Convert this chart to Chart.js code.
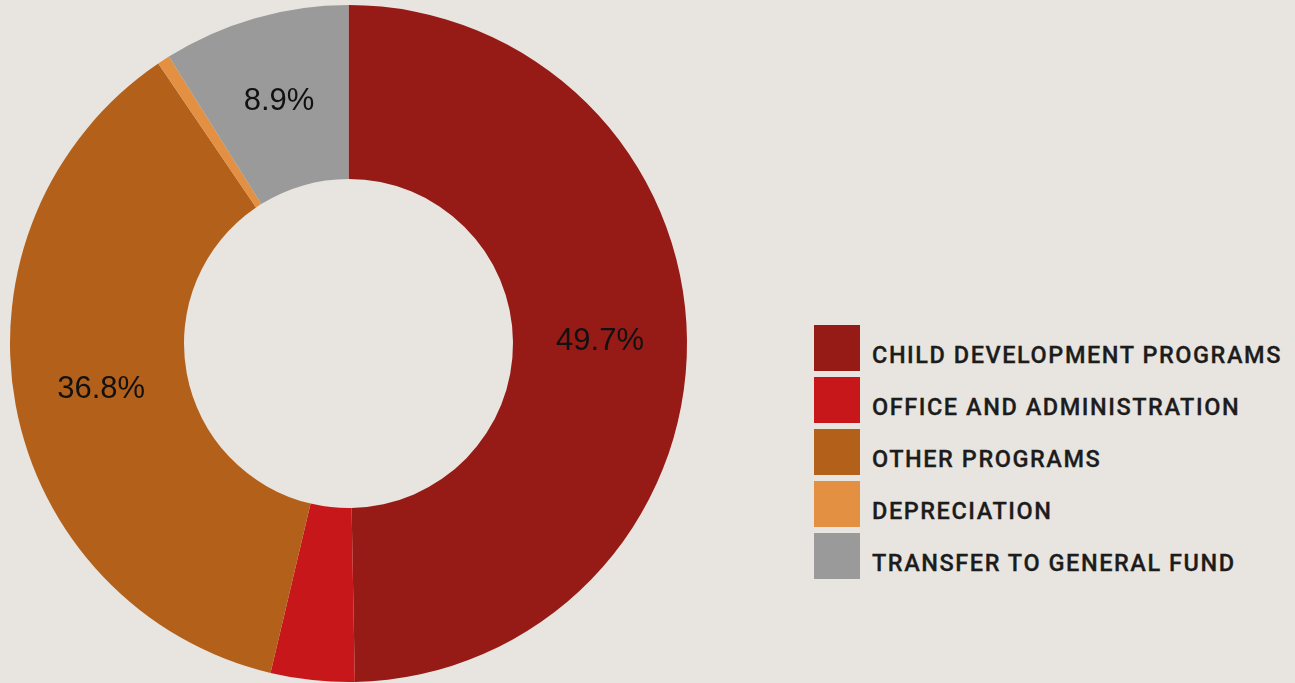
<!DOCTYPE html>
<html>
<head>
<meta charset="utf-8">
<script src="https://cdn.jsdelivr.net/npm/chart.js@4.4.1/dist/chart.umd.min.js"></script>
<style>
  html, body { margin: 0; padding: 0; background: #E8E4DF; }
  #wrap { position: relative; width: 1295px; height: 683px; background: #E8E4DF; }
  #chartBox { position: absolute; left: 0; top: 0; width: 697px; height: 683px; }
  #legend { position: absolute; left: 814px; top: 325px; }
  .row { display: flex; align-items: center; height: 46px; margin-bottom: 6px; }
  .sw { width: 46px; height: 46px; flex: none; }
  .lbl { margin-left: 12px; font-family: Roboto, "Open Sans", sans-serif; font-weight: 500;
         font-size: 23.5px; letter-spacing: 1.55px; color: #1c1c1c; transform: translateY(7px); white-space: nowrap;
         -webkit-text-stroke: 0.3px #1c1c1c; }
</style>
</head>
<body>
<div id="wrap">
  <div id="chartBox"><canvas id="c"></canvas></div>
  <div id="legend"></div>
</div>
<script>
const categories = ["CHILD DEVELOPMENT PROGRAMS", "OFFICE AND ADMINISTRATION", "OTHER PROGRAMS", "DEPRECIATION", "TRANSFER TO GENERAL FUND"];
const percentValues = [49.7, 4.0, 36.8, 0.6, 8.9];
const sliceColors = ["#961B16", "#C8171B", "#B3601B", "#E39042", "#9A9A9A"];
const labelThreshold = 5;

// legend
const legendEl = document.getElementById('legend');
categories.forEach((name, i) => {
  const row = document.createElement('div');
  row.className = 'row';
  const sw = document.createElement('div');
  sw.className = 'sw';
  sw.style.background = sliceColors[i];
  const t = document.createElement('span');
  t.className = 'lbl';
  t.textContent = name;
  row.appendChild(sw); row.appendChild(t);
  legendEl.appendChild(row);
});

const valueLabels = {
  id: 'valueLabels',
  afterDatasetsDraw(chart) {
    const ctx = chart.ctx;
    const meta = chart.getDatasetMeta(0);
    ctx.save();
    ctx.font = '31px "Liberation Sans", Arial, sans-serif';
    ctx.fillStyle = '#111111';
    ctx.textAlign = 'center';
    ctx.textBaseline = 'middle';
    meta.data.forEach((arc, i) => {
      const v = chart.data.datasets[0].data[i];
      if (v < labelThreshold) return;
      const p = arc.tooltipPosition();
      ctx.fillText(v.toFixed(1) + '%', p.x, p.y);
    });
    ctx.restore();
  }
};

new Chart(document.getElementById('c'), {
  type: 'doughnut',
  data: {
    labels: categories,
    datasets: [{
      data: percentValues,
      backgroundColor: sliceColors,
      borderWidth: 0
    }]
  },
  options: {
    responsive: true,
    maintainAspectRatio: false,
    animation: false,
    cutout: '48.6%',
    layout: { padding: { left: 10, right: 10, top: 5, bottom: 1 } },
    plugins: {
      legend: { display: false },
      tooltip: { enabled: false }
    }
  },
  plugins: [valueLabels]
});
</script>
</body>
</html>
